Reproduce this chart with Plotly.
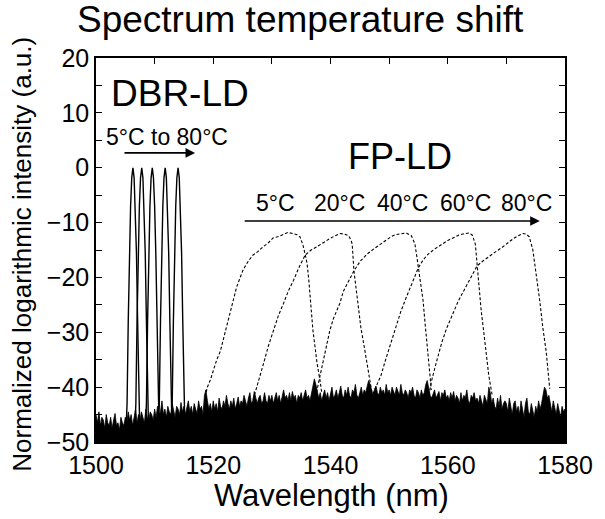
import numpy as np
import plotly.graph_objects as go

# ---------------- data ----------------
# DBR-LD peaks (5 temperatures, 5°C -> 80°C)
dbr_centers = [1506.3, 1507.8, 1509.6, 1511.8, 1514.0]
dbr_offsets = [-1.15, -1.0, -0.8, -0.6, -0.4, -0.2, 0.0, 0.2, 0.4, 0.6, 0.8, 1.0, 1.15]
dbr_levels = [-47, -43, -28, -15.5, -7, -1.8, 0, -1.8, -7, -15.5, -28, -43, -47]

# FP-LD spectra
fp5_x = [1518.6, 1519.0, 1519.5, 1520.0, 1520.6, 1521.2, 1521.7, 1522.3, 1522.9, 1523.5,
         1524.0, 1524.6, 1525.1, 1526.0, 1526.8, 1527.6, 1528.5, 1529.3, 1530.2, 1531.0,
         1531.9, 1532.7, 1533.6, 1534.3, 1534.8, 1535.3, 1535.7, 1536.0, 1536.3, 1536.5,
         1536.8, 1537.0, 1537.4, 1537.7, 1538.2, 1538.5]
fp5_y = [-41.8, -40.0, -38.7, -37.0, -35.0, -33.5, -31.4, -28.5, -25.9, -23.5,
         -21.7, -20.0, -18.6, -17.0, -15.9, -15.3, -14.4, -13.8, -12.8, -12.6,
         -12.1, -11.8, -12.0, -12.2, -12.6, -14.1, -15.9, -17.4, -20.5, -23.6,
         -27.0, -29.6, -33.0, -35.6, -38.7, -41.0]

fp20_x = [1526.8, 1527.4, 1528.0, 1528.6, 1529.4, 1530.3, 1531.1, 1532.0, 1532.8, 1533.7,
          1534.7, 1535.7, 1536.7, 1537.7, 1538.8, 1539.9, 1540.8, 1541.6, 1542.4, 1543.1,
          1543.5, 1543.7, 1544.0, 1544.4, 1544.8, 1545.2, 1545.7, 1546.2, 1546.6, 1547.1]
fp20_y = [-42.3, -39.9, -37.8, -35.6, -32.5, -29.6, -27.0, -24.7, -22.5, -20.5,
          -18.0, -15.9, -15.0, -14.4, -13.6, -12.9, -12.4, -12.0, -12.1, -12.4,
          -13.2, -13.9, -18.8, -22.5, -26.2, -29.3, -32.3, -35.5, -38.5, -41.2]

fp40_x = [1537.6, 1538.2, 1538.8, 1539.4, 1539.9, 1540.5, 1541.1, 1541.6, 1542.2, 1543.1,
          1544.0, 1545.1, 1546.3, 1547.4, 1548.6, 1549.5, 1550.3, 1551.1, 1552.0, 1552.9,
          1553.8, 1554.4, 1554.7, 1555.0, 1555.4, 1555.8, 1556.1, 1556.4, 1556.7, 1556.9,
          1557.2]
fp40_y = [-41.0, -38.0, -34.8, -32.0, -29.6, -27.5, -26.0, -24.7, -22.5, -20.5,
          -18.8, -17.0, -15.7, -14.8, -13.9, -13.2, -12.6, -12.2, -12.0, -11.9,
          -12.4, -13.9, -16.0, -18.2, -21.5, -24.3, -28.0, -31.8, -35.0, -37.9,
          -40.5]

fp60_x = [1547.2, 1547.8, 1548.6, 1549.4, 1550.3, 1551.1, 1552.0, 1552.9, 1553.8, 1554.4,
          1555.0, 1555.8, 1556.7, 1557.8, 1559.0, 1560.1, 1561.3, 1562.1, 1563.0, 1563.7,
          1564.2, 1564.7, 1565.0, 1565.3, 1565.7, 1566.2, 1566.6, 1567.0, 1567.6]
fp60_y = [-41.3, -39.8, -37.9, -35.0, -31.8, -29.0, -26.2, -23.7, -21.3, -19.7,
          -18.2, -16.8, -15.7, -14.8, -13.9, -13.2, -12.6, -12.2, -12.0, -11.9,
          -12.3, -13.9, -17.5, -21.3, -26.0, -30.5, -34.5, -37.9, -41.6]

fp80_x = [1556.8, 1557.2, 1558.1, 1559.0, 1559.8, 1560.7, 1561.8, 1563.0, 1564.0, 1565.0,
          1566.0, 1567.0, 1568.2, 1569.3, 1570.2, 1571.1, 1572.0, 1572.8, 1573.4, 1573.9,
          1574.5, 1575.1, 1575.7, 1576.2, 1576.8, 1577.1, 1577.4]
fp80_y = [-41.5, -39.0, -35.3, -31.8, -29.3, -26.9, -24.3, -21.9, -19.8, -17.9,
          -17.0, -16.3, -15.3, -14.5, -13.7, -13.0, -12.4, -12.0, -12.1, -12.6,
          -14.9, -19.5, -24.3, -29.0, -33.6, -37.0, -40.3]

# Noise floor: upper envelope every 0.25 nm from 1500 to 1580
noise_start, noise_step = 1500.0, 0.25
noise_top = [
    # 1500 - 1504.75
    -45.0, -46.5, -44.5, -47.0, -45.5, -46.0, -47.5, -45.0, -46.5, -47.0,
    -45.5, -47.5, -46.0, -44.8, -47.0, -46.5, -47.8, -45.5, -46.5, -47.0,
    # 1505 - 1509.75
    -45.5, -46.5, -44.5, -46.0, -45.0, -47.0, -45.5, -44.0, -46.5, -45.0,
    -46.0, -44.5, -45.5, -46.5, -44.0, -45.5, -46.0, -44.5, -45.0, -46.0,
    # 1510 - 1514.75
    -44.0, -45.5, -43.5, -45.0, -44.5, -42.5, -45.0, -44.0, -45.5, -43.5,
    -44.5, -45.0, -43.0, -44.5, -45.5, -43.5, -44.0, -45.0, -42.8, -44.5,
    # 1515 - 1519.75
    -43.5, -45.0, -44.0, -42.5, -44.5, -43.5, -45.0, -43.0, -44.0, -44.8,
    -42.5, -44.0, -43.5, -45.0, -41.5, -40.5, -42.5, -44.0, -43.0, -44.5,
    # 1520 - 1524.75
    -42.5, -44.0, -43.0, -44.5, -42.0, -43.5, -44.0, -42.5, -43.5, -41.5,
    -43.0, -44.0, -42.5, -43.5, -42.0, -44.0, -43.0, -41.8, -43.5, -42.5,
    # 1525 - 1529.75
    -43.0, -41.5, -42.5, -43.5, -42.0, -41.0, -43.0, -42.5, -40.8, -42.0,
    -43.0, -42.0, -41.5, -43.0, -42.5, -41.0, -42.5, -43.0, -41.5, -42.5,
    # 1530 - 1534.75
    -41.5, -43.0, -42.0, -41.0, -42.5, -41.5, -43.0, -42.0, -40.5, -42.0,
    -41.5, -42.5, -41.0, -42.5, -40.8, -42.0, -41.5, -43.0, -41.5, -42.0,
    # 1535 - 1539.75
    -41.0, -42.5, -41.5, -40.5, -42.0, -41.5, -42.5, -41.0, -40.0, -38.5,
    -39.5, -41.0, -42.0, -41.0, -42.5, -41.5, -40.5, -42.0, -41.0, -42.5,
    # 1540 - 1544.75
    -41.0, -40.0, -42.0, -41.5, -40.5, -42.0, -41.0, -39.8, -41.5, -42.0,
    -40.5, -41.5, -40.0, -41.5, -42.0, -40.5, -41.0, -39.5, -41.5, -42.0,
    # 1545 - 1549.75
    -41.0, -40.0, -41.5, -40.5, -41.0, -40.0, -38.8, -39.5, -40.5, -41.5,
    -40.5, -39.8, -41.0, -41.5, -40.0, -41.0, -40.5, -41.5, -39.5, -41.0,
    # 1550 - 1554.75
    -40.5, -41.5, -40.0, -41.0, -41.5, -40.0, -40.8, -41.5, -39.5, -41.0,
    -41.5, -40.5, -41.0, -42.0, -40.5, -41.0, -40.0, -41.5, -42.0, -40.5,
    # 1555 - 1559.75
    -41.0, -42.0, -40.5, -41.5, -41.0, -39.5, -38.8, -40.0, -41.5, -42.0,
    -41.0, -40.5, -42.0, -41.5, -40.8, -42.5, -41.0, -41.5, -40.5, -42.0,
    # 1560 - 1564.75
    -41.5, -42.5, -41.0, -42.0, -40.8, -42.5, -41.5, -42.0, -43.0, -41.0,
    -42.5, -41.5, -42.0, -40.5, -42.5, -43.0, -41.5, -42.0, -41.0, -42.5,
    # 1565 - 1569.75
    -42.0, -43.0, -41.5, -42.5, -43.5, -41.5, -42.5, -43.0, -40.0, -41.0,
    -43.0, -42.0, -43.5, -44.0, -42.0, -43.5, -41.5, -44.0, -43.0, -42.5,
    # 1570 - 1574.75
    -43.0, -44.5, -42.0, -44.0, -45.0, -43.0, -42.5, -44.5, -43.5, -45.0,
    -42.5, -44.0, -45.5, -43.0, -42.0, -44.5, -45.0, -43.0, -44.0, -45.5,
    # 1575 - 1579.75
    -43.5, -44.5, -42.5, -44.0, -43.0, -41.0, -40.0, -40.5, -42.0, -41.5,
    -43.5, -44.5, -42.5, -43.5, -45.0, -43.0, -44.0, -45.5, -43.5, -44.5,
    # 1580
    -44.0,
]
noise_floor = -50.5

x_ticks = [1500, 1520, 1540, 1560, 1580]
y_ticks = [-50, -40, -30, -20, -10, 0, 10, 20]
fp_labels = ["5°C", "20°C", "40°C", "60°C", "80°C"]
fp_label_x = [1530.7, 1541.6, 1552.2, 1563.1, 1573.5]

# ---------------- figure ----------------
FONT = "Liberation Sans, Arial, sans-serif"
fig = go.Figure()

fp_sets = [(fp5_x, fp5_y), (fp20_x, fp20_y), (fp40_x, fp40_y), (fp60_x, fp60_y), (fp80_x, fp80_y)]
for fx, fy in fp_sets:
    fig.add_trace(go.Scatter(x=fx, y=fy, mode="lines",
                             line=dict(color="black", width=1.1, dash="3px,2px"),
                             hoverinfo="skip", showlegend=False))

offs = np.array(dbr_offsets)
for c in dbr_centers:
    fig.add_trace(go.Scatter(x=c + offs, y=dbr_levels, mode="lines",
                             line=dict(color="black", width=1.4),
                             hoverinfo="skip", showlegend=False))

nx = noise_start + noise_step * np.arange(len(noise_top))
poly_x = list(nx) + [nx[-1], nx[0]]
poly_y = list(noise_top) + [noise_floor, noise_floor]
fig.add_trace(go.Scatter(x=poly_x, y=poly_y, mode="lines", fill="toself",
                         fillcolor="black", line=dict(color="black", width=0.8),
                         hoverinfo="skip", showlegend=False))

axis_common = dict(showline=True, linecolor="black", linewidth=1.5, mirror="allticks",
                   ticks="inside", ticklen=6, tickwidth=1.2, tickcolor="black",
                   showgrid=False, zeroline=False,
                   tickfont=dict(family=FONT, size=25, color="black"))

fig.update_xaxes(range=[1500, 1580], tickvals=x_ticks, ticklabelstandoff=0,
                 minor=dict(dtick=10, ticks="inside", ticklen=6, tickcolor="black", tickwidth=1.2),
                 **axis_common)
fig.update_yaxes(range=[-50, 20], tickvals=y_ticks,
                 minor=dict(dtick=5, ticks="inside", ticklen=6, tickcolor="black", tickwidth=1.2),
                 **axis_common)

ann = []
ann.append(dict(text="Spectrum temperature shift", xref="paper", yref="paper",
                x=0.435, y=1.099, xanchor="center", yanchor="middle", showarrow=False,
                font=dict(family=FONT, size=37, color="black")))
ann.append(dict(text="Normalized logarithmic intensity (a.u.)", xref="paper", yref="paper",
                x=-0.158, y=0.49, xanchor="center", yanchor="middle", textangle=-90,
                showarrow=False, font=dict(family=FONT, size=26, color="black")))
ann.append(dict(text="Wavelength (nm)", xref="paper", yref="paper",
                x=0.503, y=-0.139, xanchor="center", yanchor="middle", showarrow=False,
                font=dict(family=FONT, size=31, color="black")))
ann.append(dict(text="DBR-LD", xref="x", yref="y", x=1502.3, y=13.6,
                xanchor="left", yanchor="middle", showarrow=False,
                font=dict(family=FONT, size=37, color="black")))
ann.append(dict(text="5°C to 80°C", xref="x", yref="y", x=1512.1, y=5.6,
                xanchor="center", yanchor="middle", showarrow=False,
                font=dict(family=FONT, size=23, color="black")))
ann.append(dict(text="FP-LD", xref="x", yref="y", x=1551.9, y=2.0,
                xanchor="center", yanchor="middle", showarrow=False,
                font=dict(family=FONT, size=36, color="black")))
for lab, lx in zip(fp_labels, fp_label_x):
    ann.append(dict(text=lab, xref="x", yref="y", x=lx, y=-6.4,
                    xanchor="center", yanchor="middle", showarrow=False,
                    font=dict(family=FONT, size=23, color="black")))
# arrows
ann.append(dict(x=1516.9, y=2.7, ax=1504.6, ay=2.7, xref="x", yref="y", axref="x", ayref="y",
                text="", showarrow=True, arrowhead=2, arrowsize=1.2, arrowwidth=1.6,
                arrowcolor="black"))
ann.append(dict(x=1575.7, y=-9.7, ax=1525.1, ay=-9.7, xref="x", yref="y", axref="x", ayref="y",
                text="", showarrow=True, arrowhead=2, arrowsize=1.2, arrowwidth=1.6,
                arrowcolor="black"))

fig.update_layout(width=605, height=519, margin=dict(l=96, r=40, t=58, b=77),
                  paper_bgcolor="white", plot_bgcolor="white", annotations=ann,
                  showlegend=False)

fig.write_html("out.html", config={"displayModeBar": False},
               post_script="document.body.style.margin='0px';")
